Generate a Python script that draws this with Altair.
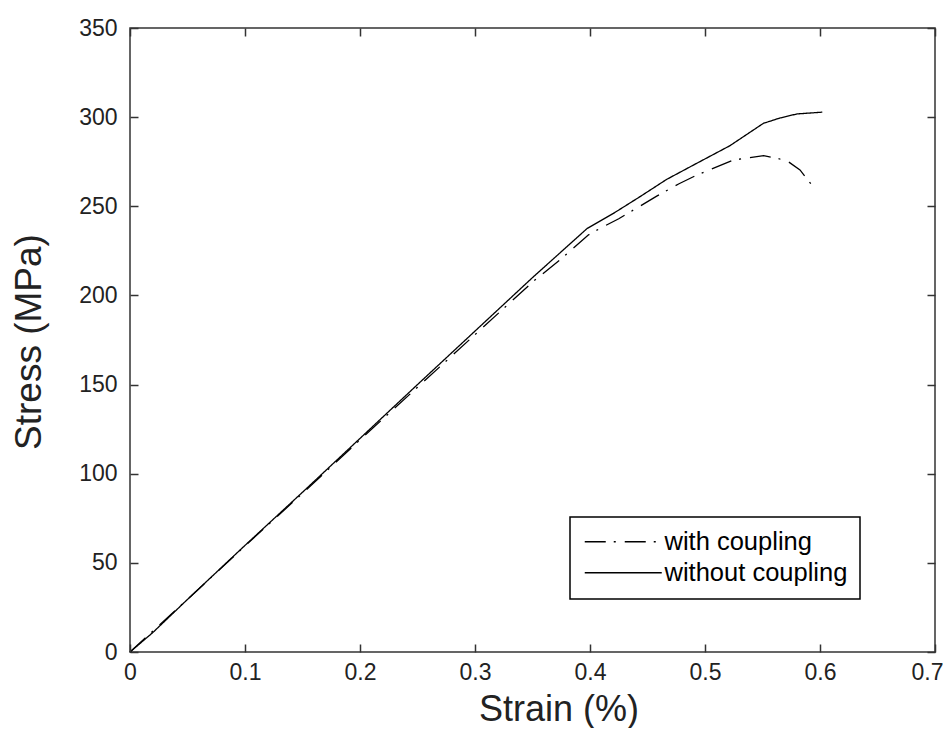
import altair as alt
import pandas as pd

series_names = ["with coupling", "without coupling"]

strain_with = [0, 0.05, 0.1, 0.15, 0.2, 0.25, 0.3, 0.35, 0.374, 0.3985, 0.4087,
               0.425, 0.4435, 0.458, 0.477, 0.4928, 0.5246, 0.551, 0.563, 0.5725,
               0.5826, 0.594]
stress_with = [0, 29.5, 59.5, 89, 119, 148.5, 178, 207.5, 220, 233.9, 237.6,
               243, 250.1, 255.7, 262.5, 267.5, 275.9, 278.4, 276.9, 275,
               270.4, 261]

strain_without = [0, 0.02, 0.05, 0.1, 0.15, 0.2, 0.25, 0.3, 0.35, 0.3976, 0.4203,
                  0.4435, 0.4667, 0.4928, 0.5217, 0.5507, 0.565, 0.58, 0.602]
stress_without = [0, 11, 29.5, 59.8, 89.6, 119.8, 150, 180, 210, 237.6, 246,
                  255.4, 265.1, 274.1, 284, 296.5, 299.5, 301.8, 302.8]

x_ticks = [0, 0.1, 0.2, 0.3, 0.4, 0.5, 0.6, 0.7]
y_ticks = [0, 50, 100, 150, 200, 250, 300, 350]

df = pd.concat([
    pd.DataFrame({"strain": strain_with, "stress": stress_with, "series": series_names[0]}),
    pd.DataFrame({"strain": strain_without, "stress": stress_without, "series": series_names[1]}),
], ignore_index=True)

FONT = "Liberation Sans"
xs = alt.Scale(domain=[0, 0.7], nice=False, zero=False)
ys = alt.Scale(domain=[0, 350], nice=False, zero=False)

TICK = dict(ticks=True, tickSize=8, tickColor="#333", tickWidth=1.5,
            tickOpacity=1, offset=-8, domain=False, grid=False, zindex=2)

dash = alt.StrokeDash(
    "series:N",
    scale=alt.Scale(domain=series_names, range=[[21, 8, 2, 9], [1, 0]]),
    legend=alt.Legend(
        title=None, orient="none", legendX=440, legendY=489,
        symbolType="M-1,0H6.7", symbolSize=400, symbolStrokeWidth=1.3,
        symbolStrokeColor="black", labelOffset=57, labelFontSize=25.5,
        labelFont=FONT, labelColor="black", labelLimit=400, padding=12,
        rowPadding=4, strokeColor="black", fillColor="white",
    ),
)

main = alt.Chart(df).mark_line(color="black", strokeWidth=1.3).encode(
    x=alt.X("strain:Q", scale=xs, axis=alt.Axis(
        orient="bottom", values=x_ticks, format=".1~f", labelPadding=9,
        labelFlush=False,
        labelOffset={"condition": {"test": "datum.value > 0.65", "value": -8}, "value": 0},
        title="Strain (%)", titleX=428.5, titleY=76,
        titleBaseline="alphabetic", titleAlign="center", titleFontSize=36,
        **TICK)),
    y=alt.Y("stress:Q", scale=ys, axis=alt.Axis(
        orient="left", values=y_ticks, labelPadding=13, labelFlush=False,
        title="Stress (MPa)", titleX=-98, titleY=313.5, titleAngle=270,
        titleBaseline="alphabetic", titleAlign="center", titleFontSize=37,
        **TICK)),
    strokeDash=dash,
)

mirror = alt.Chart(df).mark_line(color="black", strokeOpacity=0).encode(
    x=alt.X("strain:Q", scale=xs, axis=alt.Axis(
        orient="top", values=x_ticks, labels=False, title=None, **TICK)),
    y=alt.Y("stress:Q", scale=ys, axis=alt.Axis(
        orient="right", values=y_ticks, labels=False, title=None, **TICK)),
    detail="series:N",
)

chart = alt.layer(main, mirror).resolve_axis(
    x="independent", y="independent"
).properties(
    width=805, height=624,
    autosize=alt.AutoSizeParams(type="none"),
    padding={"left": 122, "top": 20, "right": 8, "bottom": 76},
    background="white",
).configure_view(
    stroke="#333", strokeWidth=1.5
).configure_axis(
    labelFont=FONT, labelFontSize=23,
    labelColor="#222", titleFont=FONT, titleColor="#222",
    titleFontWeight="normal", labelOverlap=False,
).configure_legend(
    strokeWidth=1.5
)

chart.save("out.html", embed_options={"renderer": "svg", "actions": False})
